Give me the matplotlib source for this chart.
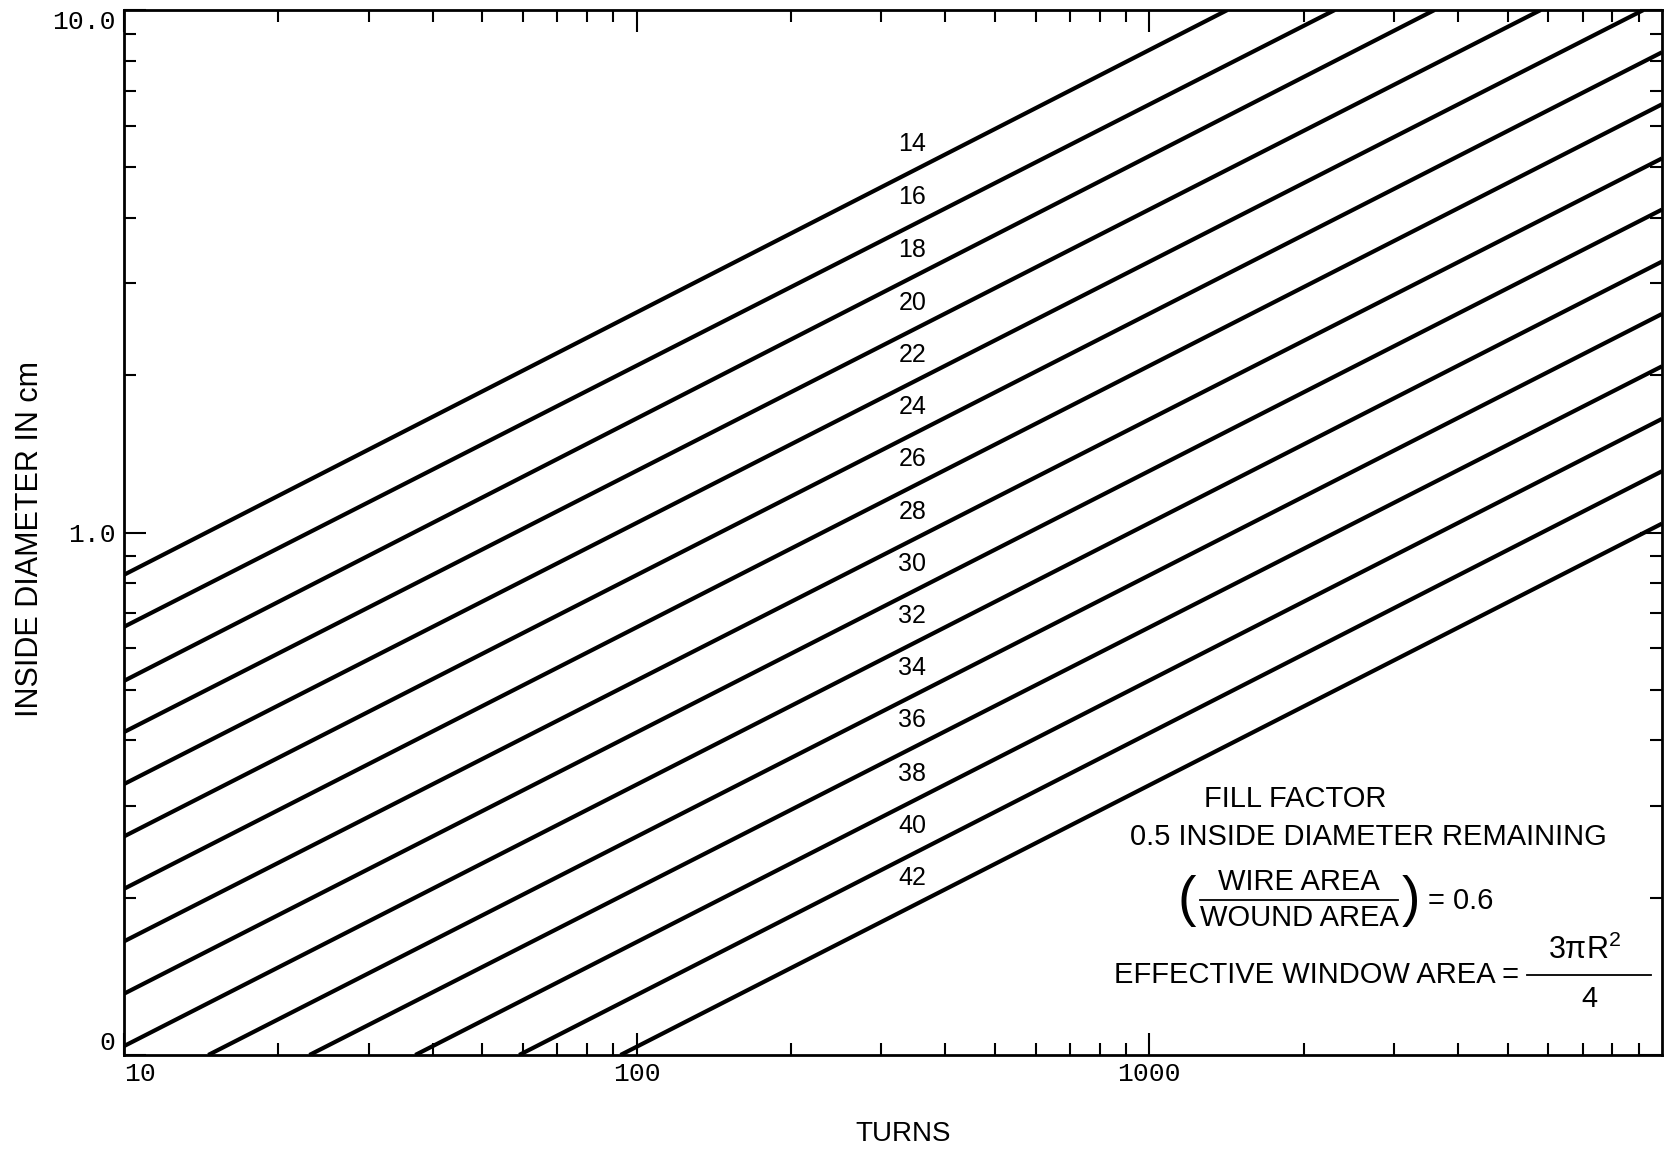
import numpy as np
import matplotlib.pyplot as plt
from matplotlib.lines import Line2D

# AWG wire size lines, turns vs inside diameter
gauges = [14, 16, 18, 20, 22, 24, 26, 28, 30, 32, 34, 36, 38, 40, 42]

# where each line enters the plot (turns, inside diameter cm)
start_turns = [10, 10, 10, 10, 10, 10, 10, 10, 10, 10, 14.6, 23, 37, 59, 93]
start_diam = [0.83, 0.66, 0.52, 0.415, 0.33, 0.262, 0.208, 0.165, 0.131, 0.104,
              0.1, 0.1, 0.1, 0.1, 0.1]
# where each line leaves the plot
end_turns = [1420, 2300, 3600, 5800, 9200, 10000, 10000, 10000, 10000, 10000,
             10000, 10000, 10000, 10000, 10000]
end_diam = [10, 10, 10, 10, 10, 8.3, 6.6, 5.2, 4.15, 3.3, 2.62, 2.08, 1.65, 1.31, 1.04]

x_ticks = [10, 100, 1000]
x_ticklabels = ['10', '100', '1000']
y_ticks = [0.1, 1.0, 10.0]
y_ticklabels = ['0', '1.0', '10.0']

label_turns = 345   # gauge numbers sit above the lines here

sans = ['Liberation Sans', 'DejaVu Sans']
mono = ['Liberation Mono', 'DejaVu Sans Mono']
plt.rcParams['mathtext.default'] = 'regular'

W, H = 1665, 1152
fig = plt.figure(figsize=(W / 100, H / 100), dpi=100)


def px(x, y):
    # pixel position -> figure fraction
    return x / W, 1 - y / H


def hline(x0, x1, y):
    fig.add_artist(Line2D([x0 / W, x1 / W], [1 - y / H, 1 - y / H], color='black', lw=1.3))


ax = fig.add_axes([124 / W, 1 - 1055 / H, (1662 - 124) / W, (1055 - 10) / H])
ax.set_xscale('log')
ax.set_yscale('log')
ax.set_xlim(10, 10000)
ax.set_ylim(0.1, 10)

for g, x0, y0, x1, y1 in zip(gauges, start_turns, start_diam, end_turns, end_diam):
    ax.plot([x0, x1], [y0, y1], color='black', lw=3, solid_capstyle='butt')
    # line height at the label position (straight in log-log)
    t = (np.log10(label_turns) - np.log10(x0)) / (np.log10(x1) - np.log10(x0))
    yl = 10 ** (np.log10(y0) + t * (np.log10(y1) - np.log10(y0)))
    ax.text(label_turns, yl * 1.13, str(g), ha='center', va='center',
            fontsize=18, family=sans)

ax.set_xticks(x_ticks)
ax.set_xticklabels(x_ticklabels, family=mono, fontsize=19)
ax.set_yticks(y_ticks)
ax.set_yticklabels(y_ticklabels, family=mono, fontsize=19)
ax.get_xticklabels()[0].set_ha('left')
ax.get_yticklabels()[0].set_va('bottom')
ax.get_yticklabels()[-1].set_va('top')

ax.tick_params(which='both', direction='in', top=True, right=True, width=1.5)
ax.tick_params(which='major', length=16)
ax.tick_params(which='minor', length=8.5)
ax.tick_params(axis='y', pad=6)
ax.tick_params(axis='x', pad=5)
for s in ax.spines.values():
    s.set_linewidth(2)

fig.text(*px(30, 539), 'INSIDE DIAMETER IN cm', rotation=90, ha='center', va='center',
         fontsize=22, family=sans)
fig.text(*px(903, 1134), 'TURNS', ha='center', va='center', fontsize=20, family=sans)

# notes block
fs = 21
fig.text(*px(1295, 799), 'FILL FACTOR', ha='center', va='center', fontsize=fs, family=sans)
fig.text(*px(1368, 837), '0.5 INSIDE DIAMETER REMAINING', ha='center', va='center',
         fontsize=fs, family=sans)
fig.text(*px(1299, 882), 'WIRE AREA', ha='center', va='center', fontsize=fs, family=sans)
fig.text(*px(1299, 918), 'WOUND AREA', ha='center', va='center', fontsize=fs, family=sans)
hline(1200, 1398, 900)
fig.text(*px(1187, 901), '(', ha='center', va='center', fontsize=40, family=sans)
fig.text(*px(1411, 901), ')', ha='center', va='center', fontsize=40, family=sans)
fig.text(*px(1428, 901), '= 0.6', ha='left', va='center', fontsize=fs, family=sans)

fig.text(*px(1519, 975), 'EFFECTIVE WINDOW AREA =', ha='right', va='center',
         fontsize=fs, family=sans)
fig.text(*px(1585, 950), '3πR$^2$', ha='center', va='center', fontsize=fs + 1, family=sans)
hline(1527, 1651, 975)
fig.text(*px(1589, 999), '4', ha='center', va='center', fontsize=fs, family=sans)

fig.savefig('out.png', dpi=100)
